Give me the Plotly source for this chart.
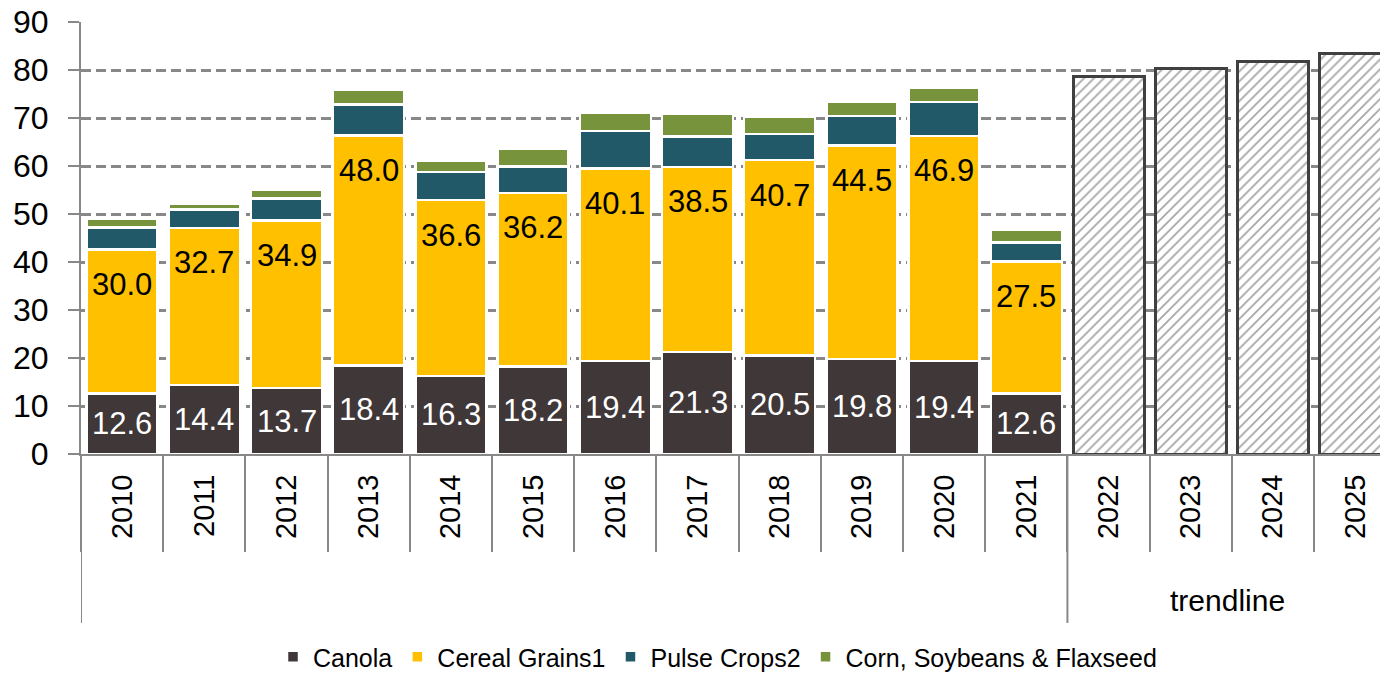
import plotly.graph_objects as go

years = ["2010", "2011", "2012", "2013", "2014", "2015", "2016", "2017",
         "2018", "2019", "2020", "2021", "2022", "2023", "2024", "2025"]
canola = [12.6, 14.4, 13.7, 18.4, 16.3, 18.2, 19.4, 21.3, 20.5, 19.8, 19.4, 12.6,
          None, None, None, None]
cereal = [30.0, 32.7, 34.9, 48.0, 36.6, 36.2, 40.1, 38.5, 40.7, 44.5, 46.9, 27.5,
          None, None, None, None]
pulse = [4.6, 3.8, 4.6, 6.4, 5.8, 5.5, 7.8, 6.3, 5.5, 6.1, 7.0, 4.0,
         None, None, None, None]
corn = [1.8, 1.2, 1.9, 3.0, 2.4, 3.7, 3.7, 4.8, 3.6, 2.9, 3.1, 2.6,
        None, None, None, None]
trend = [None] * 12 + [78.6, 80.3, 81.7, 83.5]
group_label = "trendline"
y_ticks = [0, 10, 20, 30, 40, 50, 60, 70, 80, 90]

FONT = "Liberation Sans, Arial, sans-serif"
GRAY = "#888888"

fig = go.Figure()
series = [("Canola", canola, "#403739"),
          ("Cereal Grains1", cereal, "#FFC000"),
          ("Pulse Crops2", pulse, "#215968"),
          ("Corn, Soybeans & Flaxseed", corn, "#77933C")]
for name, vals, col in series:
    fig.add_trace(go.Bar(x=years, y=vals, name=name,
                         marker=dict(color=col, line=dict(color="white", width=2.5))))

fig.add_trace(go.Bar(x=years, y=trend, name=group_label, showlegend=False,
                     marker=dict(color="white",
                                 line=dict(color="#404040", width=3),
                                 pattern=dict(shape="/", fgcolor="#a6a6a6",
                                              bgcolor="white", size=7,
                                              solidity=0.25, fillmode="replace"))))

# data labels
for i in range(len(years)):
    if canola[i] is None:
        continue
    fig.add_annotation(x=i, y=canola[i] / 2, text=f"{canola[i]:.1f}",
                       showarrow=False, font=dict(family=FONT, size=31, color="white"))
    fig.add_annotation(x=i, y=canola[i] + cereal[i], yshift=-35,
                       text=f"{cereal[i]:.1f}", showarrow=False,
                       font=dict(family=FONT, size=31, color="black"))

# group label and long separators
fig.add_annotation(x=13.45, xref="x", y=-0.340, yref="paper", yanchor="middle",
                   text=group_label, showarrow=False,
                   font=dict(family=FONT, size=30, color="black"))
for xb in [-0.5, 11.5]:
    fig.add_shape(type="line", xref="x", yref="paper", x0=xb, x1=xb,
                  y0=0, y1=-0.391, line=dict(color=GRAY, width=2))

fig.update_layout(
    width=1380, height=667,
    margin=dict(l=73, r=0, t=14, b=221, pad=0, autoexpand=False),
    barmode="stack", bargap=0.136,
    plot_bgcolor="white", paper_bgcolor="white",
    font=dict(family=FONT, color="black"),
    legend=dict(orientation="h", x=0.487, xanchor="center", y=-0.47, yanchor="middle",
                traceorder="normal",
                font=dict(family=FONT, size=25, color="black"),
                bgcolor="rgba(0,0,0,0)"),
)
fig.update_xaxes(type="category", range=[-0.5, 15.4], showline=True,
                 linecolor=GRAY, linewidth=2, ticks="outside", tickson="boundaries",
                 ticklen=96, tickcolor=GRAY, tickwidth=2, tickangle=-90,
                 tickfont=dict(family=FONT, size=29, color="black"),
                 ticklabelstandoff=7, showgrid=False, automargin=False)
fig.update_yaxes(range=[0, 90], tickvals=y_ticks, showline=True, linecolor=GRAY,
                 linewidth=2, ticks="outside", ticklen=11, tickcolor=GRAY, tickwidth=2,
                 showgrid=True, gridcolor=GRAY, gridwidth=2.5, griddash="10px,5px",
                 zeroline=False, tickfont=dict(family=FONT, size=32, color="black"),
                 ticklabelstandoff=13, ticklabeloverflow="allow", automargin=False)

fig.write_html("out.html")
